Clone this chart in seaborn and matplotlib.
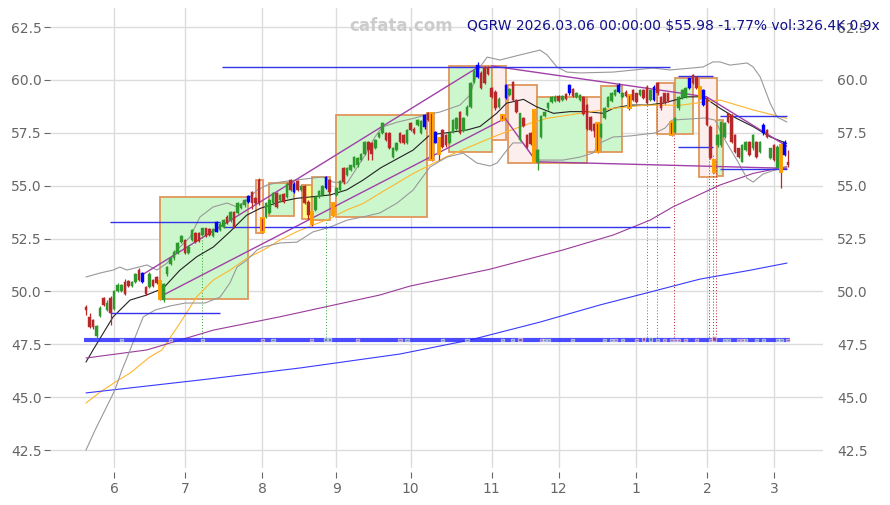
import matplotlib
matplotlib.use('Agg')
import numpy as np
import pandas as pd
import seaborn as sns
import matplotlib.pyplot as plt
from matplotlib.patches import Rectangle


# daily candles, one per trading day (0 = 2025-05-20, 199 = 2026-03-06)
opens = [
    49.27, 48.80, 48.65, 47.90, 48.85, 49.70, 49.10, 49.70, 49.15, 50.00,
    50.00, 50.45, 50.50, 50.25, 50.45, 51.00, 50.45, 50.20, 50.20, 50.55,
    50.70, 50.50, 49.60, 50.80, 51.30, 51.57, 51.80, 52.35, 52.43, 51.80,
    52.43, 52.75, 52.75, 52.67, 52.98, 52.95, 52.60, 52.83, 52.90, 53.06,
    53.53, 53.37, 53.77, 53.70, 53.95, 54.08, 54.24, 54.70, 54.40, 55.27,
    53.45, 53.53, 53.70, 54.20, 54.65, 54.30, 54.60, 54.45, 55.27, 54.70,
    55.20, 54.80, 55.00, 54.24, 53.77, 53.85, 54.45, 54.56, 54.90, 55.27,
    54.20, 54.55, 54.80, 55.83, 55.50, 55.74, 55.90, 55.97, 56.20, 56.50,
    57.06, 57.00, 56.80, 57.30, 57.50, 57.50, 57.50, 56.35, 56.70, 57.50,
    57.40, 57.00, 57.96, 57.70, 57.87, 57.50, 57.77, 58.43, 58.43, 57.03,
    57.25, 57.63, 57.40, 57.00, 57.55, 57.70, 58.50, 57.60, 58.34, 58.70,
    59.90, 60.14, 60.33, 60.62, 60.62, 59.60, 59.44, 58.70, 58.34, 59.13,
    59.28, 59.90, 59.05, 57.16, 58.20, 57.40, 57.50, 58.58, 56.13, 57.30,
    58.30, 58.66, 58.97, 59.00, 59.25, 59.05, 59.35, 59.38, 59.55, 59.20,
    59.05, 59.20, 58.80, 58.25, 57.90, 57.96, 57.30, 58.20, 58.73, 59.00,
    59.30, 59.44, 59.20, 59.45, 59.28, 59.52, 59.37, 59.28, 59.52, 59.68,
    59.05, 59.05, 59.84, 59.20, 59.37, 59.37, 58.02, 57.55, 58.66, 59.13,
    59.20, 59.60, 60.23, 60.15, 59.68, 58.81, 59.13, 57.79, 56.21, 56.90,
    56.92, 57.31, 58.42, 58.34, 57.39, 56.76, 56.13, 56.68, 57.07, 56.76,
    57.07, 56.60, 57.47, 57.63, 56.29, 56.92, 55.82, 56.92, 56.45, 56.13,
]
closes = [
    49.12, 48.30, 48.30, 48.35, 49.20, 49.35, 49.45, 49.00, 50.00, 50.30,
    50.30, 49.90, 50.25, 50.45, 50.80, 50.55, 50.85, 49.90, 50.80, 50.25,
    50.40, 49.65, 50.35, 51.15, 51.60, 51.88, 52.30, 52.60, 51.80, 52.10,
    52.90, 52.35, 52.40, 52.98, 52.60, 52.65, 52.95, 53.30, 53.20, 53.37,
    53.22, 53.77, 53.06, 54.20, 54.15, 54.32, 54.50, 54.16, 54.20, 54.17,
    52.83, 54.20, 54.30, 54.65, 54.00, 54.55, 54.25, 55.10, 54.80, 55.10,
    54.80, 55.00, 54.20, 53.60, 53.20, 54.45, 54.75, 55.00, 55.40, 54.70,
    53.60, 54.90, 55.20, 55.17, 55.83, 55.97, 56.35, 56.30, 56.50, 57.06,
    56.70, 56.50, 57.16, 57.50, 57.96, 57.16, 56.80, 56.80, 57.00, 57.06,
    57.00, 57.63, 57.63, 57.50, 58.10, 58.05, 58.34, 58.10, 56.20, 57.55,
    56.50, 56.84, 56.90, 57.50, 58.10, 58.20, 57.50, 58.20, 58.72, 59.85,
    60.40, 60.70, 59.60, 59.84, 60.30, 59.20, 58.66, 59.10, 58.10, 59.76,
    59.57, 59.05, 58.50, 58.42, 57.80, 56.84, 56.95, 56.13, 56.68, 58.30,
    58.50, 58.90, 59.20, 59.20, 59.00, 59.25, 59.10, 59.76, 59.25, 59.40,
    59.30, 58.40, 57.70, 57.63, 57.60, 56.60, 57.90, 58.66, 59.20, 59.40,
    59.50, 59.76, 59.40, 59.25, 58.66, 59.05, 58.97, 59.52, 59.13, 58.90,
    59.52, 59.68, 59.37, 58.66, 58.90, 59.00, 57.39, 58.20, 59.20, 59.52,
    59.60, 60.07, 59.84, 59.60, 59.13, 59.52, 57.87, 56.29, 55.66, 57.40,
    58.02, 57.95, 58.02, 57.07, 56.60, 56.37, 56.92, 57.07, 56.45, 57.39,
    56.37, 57.07, 57.87, 57.31, 56.76, 56.21, 56.84, 55.66, 57.07, 55.98,
]
highs = [
    49.35, 49.00, 48.70, 48.40, 49.30, 49.75, 49.60, 49.80, 50.05, 50.40,
    50.35, 50.60, 50.55, 50.50, 50.85, 51.10, 50.90, 50.25, 50.90, 50.60,
    50.75, 50.55, 50.40, 51.20, 51.65, 51.95, 52.35, 52.65, 52.50, 52.20,
    52.95, 52.80, 52.80, 53.00, 53.00, 53.00, 53.00, 53.35, 53.30, 53.40,
    53.60, 53.80, 53.80, 54.25, 54.20, 54.35, 54.55, 54.75, 54.45, 55.35,
    53.50, 54.25, 54.35, 54.70, 54.70, 54.60, 54.65, 55.15, 55.30, 55.15,
    55.25, 55.05, 55.05, 54.30, 53.80, 54.50, 54.80, 55.05, 55.45, 55.30,
    54.25, 54.95, 55.25, 55.90, 55.90, 56.00, 56.40, 56.35, 56.55, 57.10,
    57.10, 57.05, 57.20, 57.55, 58.00, 57.55, 57.55, 56.85, 57.05, 57.55,
    57.45, 57.70, 58.00, 57.75, 58.15, 58.10, 58.40, 58.50, 58.45, 57.60,
    57.30, 57.70, 57.45, 57.55, 58.15, 58.25, 58.55, 58.25, 58.80, 59.90,
    60.50, 60.85, 60.40, 60.65, 60.65, 59.65, 59.50, 59.20, 58.40, 59.80,
    59.60, 59.95, 59.10, 58.45, 58.25, 57.45, 57.55, 58.60, 56.75, 58.35,
    58.55, 58.95, 59.25, 59.30, 59.30, 59.30, 59.40, 59.80, 59.60, 59.45,
    59.35, 59.25, 58.85, 58.30, 57.95, 58.00, 57.95, 58.70, 59.25, 59.45,
    59.55, 59.85, 59.45, 59.50, 59.30, 59.55, 59.40, 59.55, 59.55, 59.75,
    59.55, 59.75, 59.90, 59.25, 59.40, 59.40, 58.05, 58.25, 59.25, 59.55,
    59.65, 60.10, 60.30, 60.20, 59.70, 59.55, 59.15, 57.85, 56.25, 57.45,
    58.05, 58.00, 58.45, 58.40, 57.45, 56.80, 56.95, 57.10, 57.10, 57.45,
    57.10, 57.10, 57.95, 57.70, 56.80, 56.95, 56.90, 56.95, 57.15, 56.68,
]
lows = [
    48.90, 48.25, 48.20, 47.70, 48.80, 49.30, 49.05, 48.40, 49.10, 49.95,
    49.95, 49.85, 50.20, 50.20, 50.40, 50.50, 50.40, 49.85, 50.15, 50.20,
    50.35, 49.60, 49.50, 50.75, 51.25, 51.50, 51.75, 52.30, 51.75, 51.75,
    52.40, 52.30, 52.35, 52.60, 52.55, 52.60, 52.55, 52.80, 52.85, 53.00,
    53.20, 53.30, 53.00, 53.65, 53.90, 54.00, 54.20, 53.90, 54.15, 54.10,
    52.75, 53.45, 53.65, 54.10, 53.95, 54.25, 54.20, 54.40, 54.75, 54.65,
    54.75, 54.75, 54.15, 53.40, 53.10, 53.80, 54.40, 54.50, 54.85, 54.60,
    53.55, 54.50, 54.75, 55.10, 55.45, 55.70, 55.85, 55.90, 56.15, 56.45,
    56.20, 56.20, 56.75, 57.25, 57.45, 57.10, 56.75, 56.30, 56.65, 57.00,
    56.95, 56.95, 57.60, 57.45, 57.80, 57.45, 57.70, 58.05, 56.15, 57.00,
    56.20, 56.80, 56.85, 56.95, 57.50, 57.65, 57.45, 57.55, 58.30, 58.65,
    59.85, 60.10, 59.55, 59.80, 60.25, 59.15, 58.60, 58.65, 58.05, 59.10,
    59.25, 59.00, 58.45, 57.10, 57.75, 56.80, 56.90, 56.10, 55.75, 57.25,
    58.25, 58.60, 58.90, 58.95, 58.95, 59.00, 59.05, 59.30, 59.20, 59.15,
    59.00, 58.35, 57.65, 57.60, 57.30, 56.55, 57.25, 58.15, 58.70, 58.95,
    59.25, 59.40, 59.15, 59.20, 58.60, 59.00, 58.90, 59.25, 59.10, 58.85,
    59.00, 59.00, 59.30, 58.60, 58.85, 58.95, 57.35, 57.50, 58.60, 59.10,
    59.15, 59.55, 59.80, 59.55, 59.10, 58.75, 57.80, 56.25, 55.60, 56.85,
    56.85, 57.25, 57.95, 57.00, 56.55, 56.30, 56.10, 56.65, 56.40, 56.70,
    56.30, 56.55, 57.40, 57.25, 56.25, 56.15, 55.80, 54.90, 56.40, 55.90,
]
blue_days = [16, 37, 46, 59, 68, 96, 99, 111, 119, 137, 151, 161, 171, 175, 192, 198]
orange_days = [21, 50, 64, 70, 98, 100, 118, 127, 145, 154, 166, 174, 178, 197]

month_pos = [8, 28, 50, 71, 92, 115, 134, 156, 176, 195]
month_lbl = ['6', '7', '8', '9', '10', '11', '12', '1', '2', '3']

# indicator lines (day position, price)
ma_black_x = [0, 2, 7.7, 12.5, 17.2, 21.9, 26.6, 31.4, 36.1, 40.8, 45.5, 49.3, 55, 59.7,
              64.4, 69.2, 73.9, 78.6, 83.6, 92.7, 97.5, 102.2, 107.9, 111.7, 116.4, 119.2,
              124, 127.7, 132.5, 137.2, 141.9, 146.6, 149.5, 154.2, 158.9, 163.6, 170.3,
              175, 179.7, 184.4, 189.1, 193.9, 198.6]
ma_black_y = [46.66, 47.23, 48.8, 49.59, 49.83, 50.15, 51.0, 51.64, 52.1, 52.82, 53.6, 53.92,
              54.24, 54.4, 54.48, 54.56, 54.8, 55.27, 55.85, 56.68, 57.4, 57.5, 57.63, 57.8,
              58.42, 58.9, 59.08, 58.73, 58.42, 58.5, 58.5, 58.42, 58.66, 58.81, 58.81, 58.9,
              59.2, 59.2, 58.66, 58.18, 57.79, 57.31, 57.0]

ma_orange_x = [0, 4, 8.2, 12.5, 18.1, 21.5, 26.6, 31.4, 36.1, 40.8, 45.5, 50.3, 55, 59.7,
               64.4, 69.2, 73.9, 78.6, 83.3, 92.8, 102.2, 108.8, 114.5, 119.2, 125.9, 130.6,
               140, 149.5, 158.9, 168.4, 175, 179.7, 189.1, 198.6]
ma_orange_y = [44.72, 45.24, 45.7, 46.14, 46.9, 47.23, 48.49, 49.75, 50.54, 51.0, 51.56, 51.96,
               52.43, 52.82, 53.14, 53.45, 53.85, 54.16, 54.64, 55.58, 56.37, 56.84, 57.24,
               57.55, 57.95, 58.18, 58.42, 58.66, 58.81, 58.8, 58.95, 59.05, 58.58, 58.18]

ma_purple_x = [0, 17.2, 36.1, 55, 83.3, 91.8, 114.5, 135.2, 149.5, 159.9, 166.4, 179.7, 189.1, 198.6]
ma_purple_y = [46.85, 47.23, 48.17, 48.8, 49.83, 50.25, 51.05, 51.96, 52.67, 53.37, 54.0, 55.03, 55.58, 55.9]

ma_blue_x = [0, 32.3, 60.7, 89, 108.8, 128.7, 145.7, 159.9, 174, 188.2, 198.7]
ma_blue_y = [45.2, 45.81, 46.38, 47.04, 47.7, 48.55, 49.36, 49.97, 50.58, 51.0, 51.34]

bb_up_x = [0, 4, 7.7, 9.6, 11.6, 17.3, 20.1, 23, 25.8, 29.5, 32.3, 36, 40, 42.8, 45.6, 48.5,
           51.3, 55, 59.8, 64.3, 67.2, 70, 74, 79.1, 81.9, 83.9, 88.4, 93.3, 96.1, 100.3, 106,
           108.8, 111.1, 113.7, 117.3, 123, 128.7, 130.7, 133.5, 136.3, 140, 149.4, 160.7,
           165.5, 174.9, 177.7, 179.7, 182.5, 187.4, 189.1, 191.1, 193.9, 195.9, 198.7]
bb_up_y = [50.68, 50.87, 51.01, 51.15, 51.01, 51.25, 51.01, 51.34, 51.96, 52.57, 53.52, 53.99,
           54.18, 53.99, 54.32, 54.79, 55.03, 55.17, 55.27, 55.36, 55.41, 55.17, 55.12, 56.45,
           57.3, 57.77, 58.01, 58.2, 58.34, 58.48, 58.81, 59.28, 60.47, 61.08, 60.94, 61.18,
           61.41, 61.18, 60.61, 60.37, 60.33, 60.37, 60.56, 60.47, 60.61, 60.85, 60.85, 60.7,
           60.8, 60.61, 60.14, 58.91, 58.24, 58.01]

bb_lo_x = [0, 2.6, 5.4, 8.2, 10.2, 12.5, 16.2, 19.6, 23.8, 28.1, 33.7, 38, 40.8, 42.8, 45.6,
           48.5, 50.2, 55, 59.8, 64.3, 69.2, 74, 78.5, 83.3, 88.2, 92.7, 97.5, 102.3, 106.9,
           110.8, 114.5, 116.5, 119.3, 121, 123.9, 126.7, 128.7, 135.2, 140, 143.7, 145.7,
           149.4, 154.2, 161.3, 164.1, 166.1, 175.5, 178.3, 181.1, 184.5, 187.3, 189.1,
           191.9, 195.3, 198.7]
bb_lo_y = [42.5, 43.45, 44.39, 45.34, 46.28, 47.23, 48.79, 49.12, 49.31, 49.45, 49.45, 49.73,
           50.4, 51.15, 51.48, 51.96, 52.1, 52.29, 52.33, 52.81, 53.04, 53.37, 53.52, 53.71,
           54.18, 54.79, 55.88, 56.35, 56.54, 56.07, 55.93, 56.07, 56.68, 57.02, 57.02, 56.35,
           56.21, 56.21, 56.35, 56.54, 57.02, 57.3, 57.35, 57.49, 57.72, 58.1, 58.2, 58.1,
           57.16, 56.21, 55.36, 55.17, 55.55, 55.74, 55.88]

# range boxes: start day, end day, top, bottom, kind
box_x0 = [21.0, 48.2, 52.0, 61.1, 64.0, 70.9, 96.7, 102.9, 115.0, 119.7, 127.7, 141.9, 145.9, 161.8, 167.0, 173.8, 178.8]
box_x1 = [45.9, 50.1, 59.0, 64.0, 69.2, 96.7, 98.7, 115.0, 119.0, 127.7, 141.9, 145.9, 151.8, 166.8, 172.0, 178.8, 180.6]
box_top = [54.46, 55.27, 55.11, 55.03, 55.42, 58.34, 58.45, 60.66, 60.66, 59.76, 59.2, 59.2, 59.71, 59.84, 60.07, 60.07, 58.1]
box_bot = [49.64, 52.77, 53.56, 53.41, 53.37, 53.5, 56.21, 56.6, 57.16, 56.05, 56.05, 56.6, 56.6, 57.43, 57.44, 55.42, 55.45]
box_kind = ['up', 'down', 'up', 'flat', 'up', 'up', 'down', 'up', 'down', 'down', 'up', 'down', 'up', 'down', 'up', 'down', 'up']

# support / resistance levels
lvl_x0 = [6.8, 38.8, 6.8, 38.5, 167.8, 179.7, 167.8, 179.7]
lvl_x1 = [38.0, 165.5, 38.0, 165.5, 177.7, 198.7, 177.7, 198.7]
lvl_y = [53.26, 53.03, 48.96, 60.62, 60.18, 58.29, 56.81, 55.79]

# trend channel segments
trend_x0 = [15.8, 21.0, 118.8, 127.7, 115.0, 175.9]
trend_x1 = [111.7, 118.8, 127.7, 198.6, 175.9, 198.6]
trend_y0 = [50.77, 49.75, 58.18, 56.13, 60.66, 59.2]
trend_y1 = [60.66, 58.18, 56.13, 55.82, 59.2, 56.87]

# signal markers (dotted drops to the volume line)
sig_x = [33.0, 67.9, 158.9, 161.8, 166.8, 176.6, 177.6, 178.6]
sig_top = [52.57, 53.37, 59.28, 59.52, 57.39, 57.87, 56.45, 56.21]
sig_side = ['buy', 'buy', 'buy', 'buy', 'sell', 'sell', 'sell', 'sell']

# small volume marks sitting on the base line
vol_x = [10, 24, 33, 50, 53, 64, 68, 69, 77, 89, 91, 101, 108, 118, 121, 123, 129, 130, 131,
         138, 147, 149, 150, 152, 156, 158, 160, 162, 164, 166, 167, 168, 170, 173, 177, 178,
         181, 182, 185, 186, 187, 190, 192, 196, 197, 199]
vol_h = [0.1, 0.08, 0.1, 0.08, 0.08, 0.08, 0.12, 0.15, 0.08, 0.08, 0.1, 0.08, 0.1, 0.1, 0.08,
         0.12, 0.08, 0.1, 0.08, 0.08, 0.1, 0.1, 0.08, 0.08, 0.08, 0.2, 0.2, 0.1, 0.1, 0.08, 0.1,
         0.08, 0.08, 0.1, 0.1, 0.25, 0.1, 0.1, 0.1, 0.1, 0.08, 0.08, 0.1, 0.08, 0.08, 0.08]
vol_up = [1, 0, 1, 0, 1, 0, 1, 1, 0, 0, 1, 1, 1, 1, 1, 0, 0, 1, 1, 1, 1, 1, 0, 1, 0, 0, 1, 1,
          0, 0, 0, 0, 0, 0, 0, 0, 1, 1, 0, 0, 1, 1, 1, 1, 1, 0]

GREEN = '#2e9a2e'
RED = '#b82828'
BOX_EDGE = '#e0965a'
BOX_FILL = {'up': '#ccf7cc', 'down': '#fdeeee', 'flat': '#ffff88'}
GRAY_TXT = '#666666'

sns.set_style('whitegrid')
plt.rcParams['font.family'] = ['DejaVu Sans']

fig = plt.figure(figsize=(8.9, 5.05), dpi=100)
ax = fig.add_axes([50 / 890, 37 / 505, 773 / 890, 460 / 505])

# boxes
for x0, x1, t, b, k in zip(box_x0, box_x1, box_top, box_bot, box_kind):
    ax.add_patch(Rectangle((x0, b), x1 - x0, t - b, facecolor=BOX_FILL[k],
                           edgecolor=BOX_EDGE, lw=1.3, zorder=1))

# indicator lines
lines = pd.DataFrame({'x': ma_black_x, 'y': ma_black_y})
sns.lineplot(data=lines, x='x', y='y', ax=ax, color='#222222', lw=0.8, sort=False, estimator=None, zorder=3)
sns.lineplot(x=ma_orange_x, y=ma_orange_y, ax=ax, color='#ffb52e', lw=0.8, sort=False, estimator=None, zorder=3)
sns.lineplot(x=ma_purple_x, y=ma_purple_y, ax=ax, color='#9a3a9a', lw=0.8, sort=False, estimator=None, zorder=3)
sns.lineplot(x=ma_blue_x, y=ma_blue_y, ax=ax, color='#3a3aff', lw=0.8, sort=False, estimator=None, zorder=3)
sns.lineplot(x=bb_up_x, y=bb_up_y, ax=ax, color='#999999', lw=0.8, sort=False, estimator=None, zorder=3)
sns.lineplot(x=bb_lo_x, y=bb_lo_y, ax=ax, color='#999999', lw=0.8, sort=False, estimator=None, zorder=3)

# channel lines and levels
for x0, x1, y0, y1 in zip(trend_x0, trend_x1, trend_y0, trend_y1):
    ax.plot([x0, x1], [y0, y1], color='#a040a8', lw=1.0, zorder=3)
ax.hlines(lvl_y, lvl_x0, lvl_x1, color='#3333ee', lw=1.0, zorder=3)

# signal drops
for x, t, s in zip(sig_x, sig_top, sig_side):
    ax.vlines(x, 47.7, t, color=GREEN if s == 'buy' else RED, lw=0.7,
              linestyles=(0, (1, 2)), zorder=2)

# volume base line and marks
ax.hlines(47.7, -0.5, 199.5, color='#2a2aff', lw=3, alpha=0.85, zorder=4)
ax.bar(vol_x, vol_h, bottom=47.66, width=0.9,
       color=[GREEN if u else RED for u in vol_up], alpha=0.55, zorder=5)

# candles
days = np.arange(len(closes))
body_col, edge_col = [], []
for d in days:
    base = GREEN if closes[d] >= opens[d] else RED
    if d in blue_days:
        body_col.append('#0000ff'); edge_col.append('#0000ff')
    elif d in orange_days:
        body_col.append(RED); edge_col.append('#ffa000')
    else:
        body_col.append(base); edge_col.append(base)
ax.vlines(days, lows, highs, colors=body_col, lw=0.9, zorder=6)
bottoms = np.minimum(opens, closes)
heights = np.maximum(np.abs(np.array(closes) - np.array(opens)), 0.04)
ax.bar(days, heights, bottom=bottoms, width=0.72, color=body_col,
       edgecolor=edge_col, lw=[1.4 if d in orange_days else 0.3 for d in days], zorder=7)

# axes styling
ax.set_xlim(-10.2, 208.9)
ax.set_ylim(41.65, 63.4)
yt = np.arange(42.5, 62.6, 2.5)
ax.set_yticks(yt)
ax.set_yticklabels([f'{v:.1f}' for v in yt])
ax.set_xticks(month_pos)
ax.set_xticklabels(month_lbl)
ax.set_xlabel('')
ax.set_ylabel('')
ax.grid(True, color='#dcdcdc', lw=1.0)
for s in ax.spines.values():
    s.set_visible(False)
ax.spines['bottom'].set_position(('outward', 3))
ax.tick_params(axis='x', colors=GRAY_TXT, length=4, width=0.8, labelsize=10, pad=3, bottom=True)
ax.tick_params(axis='y', colors=GRAY_TXT, length=4, width=0.8, labelsize=10, pad=2, left=True)

ax2 = ax.twinx()
ax2.set_ylim(ax.get_ylim())
ax2.set_yticks(yt)
ax2.set_yticklabels([f'{v:.1f}' for v in yt])
ax2.tick_params(axis='y', colors=GRAY_TXT, length=0, labelsize=10, pad=10)
ax2.grid(False)
for s in ax2.spines.values():
    s.set_visible(False)

fig.text(401 / 890, 1 - 26 / 505, 'cafata.com', color='#cccccc', fontsize=12,
         fontweight='bold', ha='center', va='center')
fig.text(467 / 890, 1 - 26 / 505, r'QGRW 2026.03.06 00:00:00 \$55.98 -1.77% vol:326.4K 0.9x',
         color='#10108a', fontsize=10, ha='left', va='center')

fig.savefig('out.png', dpi=100, facecolor='white')
